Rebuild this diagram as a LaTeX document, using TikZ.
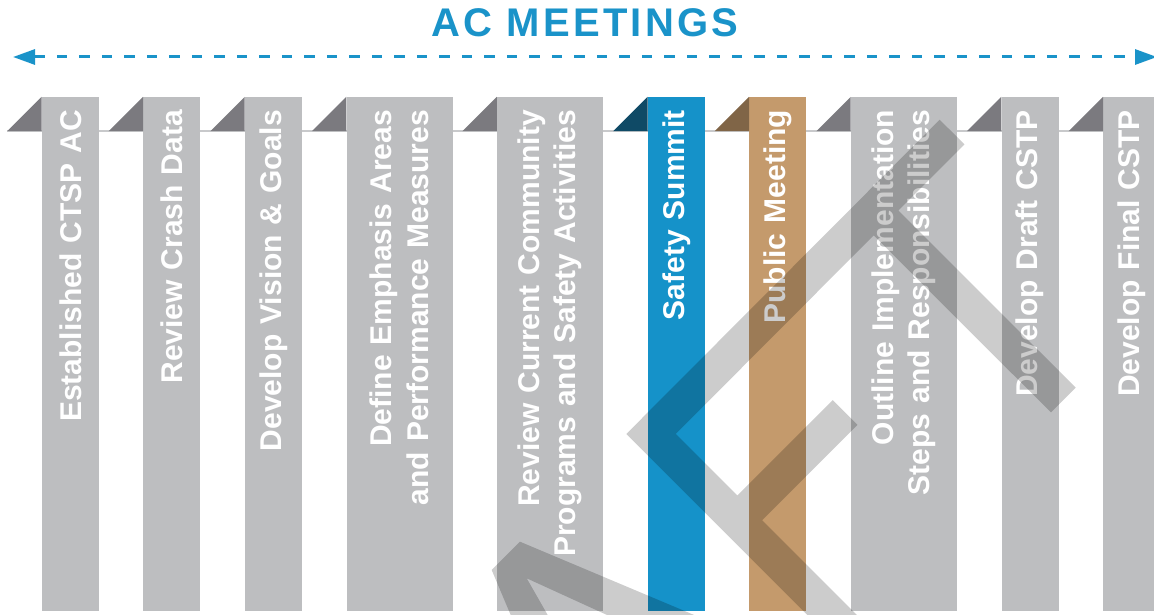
\documentclass[tikz,border=0pt]{standalone}
\usepackage{fontspec}
\setmainfont{Liberation Sans}
\newfontfamily\titlefont[LetterSpace=8]{Liberation Sans}
\usetikzlibrary{arrows.meta}

\definecolor{barGrey}{HTML}{BDBEC0}
\definecolor{foldGrey}{HTML}{7B7A7F}
\definecolor{acBlue}{HTML}{1592C9}
\definecolor{foldBlue}{HTML}{0F4A66}
\definecolor{acTan}{HTML}{C49A6C}
\definecolor{foldTan}{HTML}{806547}
\definecolor{titleBlue}{HTML}{1A93C9}
\definecolor{baseGrey}{HTML}{C8C9CB}

\begin{document}
\begin{tikzpicture}
        [x=1pt, y=-1pt,
         bar/.style = {rotate=90, minimum width=514pt, inner xsep=13pt, inner ysep=0pt,
                       text width=488pt, align=right, text=white, fill=barGrey,
                       font=\bfseries\fontsize{30}{36.6}\selectfont},
         narrowbar/.style = {bar, minimum height=57pt},
         widebar/.style = {bar, minimum height=106pt},
         fold/.style = {fill=foldGrey},
         swoosh/.style = {draw=black, draw opacity=0.2, line width=35pt, line join=miter, line cap=butt},
         swooshfill/.style = {fill=black, fill opacity=0.2}]
        \useasboundingbox (0,0) rectangle (1154,615);

        % title and timeline
        \node[font=\titlefont\bfseries\fontsize{40}{48}\selectfont, text=titleBlue] (title) at (585,22.5) {AC MEETINGS};
        \coordinate (lend) at (13,57);
        \coordinate (rend) at (1157,57);
        \draw[titleBlue, line width=3pt, dash pattern=on 10.5pt off 12pt,
              {Triangle[length=22pt,width=15pt]}-{Triangle[length=22pt,width=15pt]}] (lend) -- (rend);

        \draw[baseGrey, line width=1.5pt] (7,131) -- (1154,131);

        % steps
        \node[narrowbar] (est) at (70.4,354) {Established CTSP AC};
        \node[narrowbar] (crash) at (171.7,354) {Review Crash Data};
        \node[narrowbar] (vision) at (273.4,354) {Develop Vision \& Goals};
        \node[widebar] (emph) at (399.5,354) {Define Emphasis Areas\\and Performance Measures};
        \node[widebar] (review) at (550,354) {Review Current Community\\Programs and Safety Activities};
        \node[narrowbar, fill=acBlue] (summit) at (676.3,354) {Safety Summit};
        \node[narrowbar, fill=acTan] (public) at (777.7,354) {Public Meeting};
        \node[widebar] (outline) at (903.9,354) {Outline Implementation\\Steps and Responsibilities};
        \node[narrowbar] (draft) at (1030,354) {Develop Draft CSTP};
        \node[narrowbar] (final) at (1131.7,354) {Develop Final CSTP};

        \fill[fold] (est.north east) -- ++(0,34.4) -- ++(-34.4,0) -- cycle;
        \fill[fold] (crash.north east) -- ++(0,34.4) -- ++(-34.4,0) -- cycle;
        \fill[fold] (vision.north east) -- ++(0,34.4) -- ++(-34.4,0) -- cycle;
        \fill[fold] (emph.north east) -- ++(0,34.4) -- ++(-34.4,0) -- cycle;
        \fill[fold] (review.north east) -- ++(0,34.4) -- ++(-34.4,0) -- cycle;
        \fill[fold, fill=foldBlue] (summit.north east) -- ++(0,34.4) -- ++(-34.4,0) -- cycle;
        \fill[fold, fill=foldTan] (public.north east) -- ++(0,34.4) -- ++(-34.4,0) -- cycle;
        \fill[fold] (outline.north east) -- ++(0,34.4) -- ++(-34.4,0) -- cycle;
        \fill[fold] (draft.north east) -- ++(0,34.4) -- ++(-34.4,0) -- cycle;
        \fill[fold] (final.north east) -- ++(0,34.4) -- ++(-34.4,0) -- cycle;

        % watermark
        \begin{scope}
            \clip (0,0) rectangle (1154,615);
            \draw[swoosh] (952,132) -- (651,434) -- (851,634)
                          (737.5,520) -- (845,412.5)
                          (874,211) -- (1063.3,400);
            \fill[swooshfill] (520,541.7) -- (491.7,570) -- (512.8,620) -- (550.5,620)
                              -- (526.7,578.3) -- (618,620) -- (706,620) -- cycle;
        \end{scope}
\end{tikzpicture}
\end{document}
